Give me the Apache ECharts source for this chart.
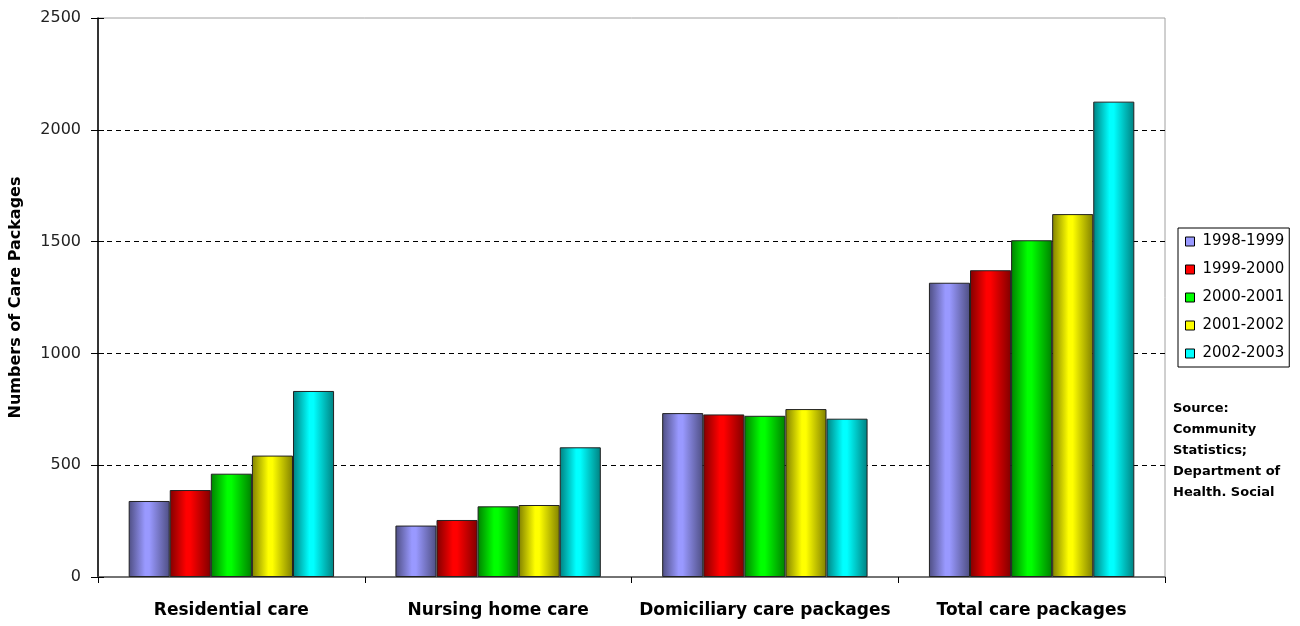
<!DOCTYPE html>
<html>
<head>
<meta charset="utf-8">
<script src="https://cdn.jsdelivr.net/npm/echarts@6/dist/echarts.min.js"></script>
<style>html,body{margin:0;padding:0;background:#fff}#c{width:1300px;height:626px}</style>
</head>
<body>
<div id="c"></div>
<script>
const categories = ['Residential care', 'Nursing home care', 'Domiciliary care packages', 'Total care packages'];
const seriesNames = ['1998-1999', '1999-2000', '2000-2001', '2001-2002', '2002-2003'];
const s1998 = [340, 230, 733, 1316];
const s1999 = [389, 255, 727, 1372];
const s2000 = [462, 316, 721, 1506];
const s2001 = [543, 322, 751, 1623];
const s2002 = [832, 580, 708, 2126];
const seriesValues = [s1998, s1999, s2000, s2001, s2002];
const yTicks = [0, 500, 1000, 1500, 2000, 2500];
const sourceLines = ['Source:', 'Community', 'Statistics;', 'Department of', 'Health. Social'];

const baseColors = ['#9999ff', '#ff0000', '#00ff00', '#ffff00', '#00ffff'];
const darkColors = ['#4e4e82', '#800000', '#008000', '#808000', '#008080'];

function grad(i) {
  return new echarts.graphic.LinearGradient(0, 0, 1, 0, [
    {offset: 0, color: darkColors[i]},
    {offset: 0.4, color: baseColors[i]},
    {offset: 0.5, color: baseColors[i]},
    {offset: 1, color: darkColors[i]}
  ]);
}

const FONT = 'DejaVu Sans, Verdana, sans-serif';
const chart = echarts.init(document.getElementById('c'), null, {renderer: 'canvas'});
const option = {
  animation: false,
  textStyle: {fontFamily: FONT},
  grid: {left: 98, right: 135, top: 18, bottom: 49, containLabel: false, outerBoundsMode: 'none',
         show: true, borderColor: '#a0a0a0', borderWidth: 1, backgroundColor: 'transparent'},
  legend: {
    orient: 'vertical',
    left: 1178, top: 228,
    borderColor: '#000', borderWidth: 1,
    padding: [6, 5, 6, 7],
    itemWidth: 9, itemHeight: 9, itemGap: 13,
    icon: 'rect',
    textStyle: {fontSize: 15, color: '#000', fontFamily: FONT, padding: [0, 0, 0, 3]},
    data: seriesNames.map((n, i) => ({name: n, itemStyle: {color: baseColors[i], borderColor: '#000', borderWidth: 1}}))
  },
  xAxis: {
    type: 'category',
    data: categories,
    axisLine: {lineStyle: {color: '#555', width: 1.5}},
    axisTick: {show: true, interval: 0, length: 6, lineStyle: {color: '#000'}},
    axisLabel: {interval: 0, hideOverlap: false, fontSize: 17, fontWeight: 'bold', color: '#000', margin: 25, fontFamily: FONT}
  },
  yAxis: [{
    type: 'value',
    min: yTicks[0], max: yTicks[yTicks.length - 1], interval: 500,
    name: 'Numbers of Care Packages',
    nameLocation: 'middle', nameGap: 74,
    nameTextStyle: {fontSize: 16, fontWeight: 'bold', color: '#000', fontFamily: FONT},
    axisLine: {show: true, lineStyle: {color: '#000', width: 1.5}},
    axisTick: {show: true, length: 7, lineStyle: {color: '#000'}},
    axisLabel: {fontSize: 16, color: '#222', margin: 17, fontFamily: FONT, formatter: v => String(v)},
    splitLine: {show: true, showMinLine: false, showMaxLine: false, lineStyle: {color: '#000', type: [5, 4], width: 1}}
  }, {
    type: 'value', position: 'left', offset: 0,
    min: yTicks[0], max: yTicks[yTicks.length - 1], interval: 500,
    axisLine: {show: true, lineStyle: {color: 'rgba(0,0,0,0)'}}, axisLabel: {show: false}, splitLine: {show: false},
    axisTick: {show: true, inside: true, length: 6, lineStyle: {color: '#000'}}
  }],
  series: seriesNames.map((n, i) => ({
    name: n,
    type: 'bar',
    data: seriesValues[i],
    barGap: '0%',
    barCategoryGap: '23%',
    itemStyle: {color: grad(i), borderColor: '#222', borderWidth: 1}
  })),
  graphic: [{
    type: 'text', left: 1173, top: 398,
    style: {text: sourceLines.join('\n'), font: 'bold 13px DejaVu Sans, Verdana, sans-serif', lineHeight: 21, fill: '#000'}
  }]
};
chart.setOption(option);
</script>
</body>
</html>
